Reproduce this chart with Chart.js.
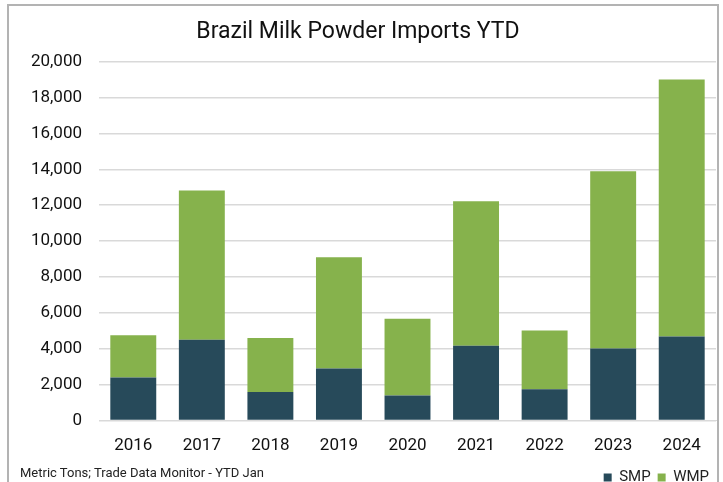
<!DOCTYPE html>
<html lang="en">
<head>
    <meta charset="UTF-8">
    <title>Brazil Milk Powder Imports YTD</title>
    <script src="https://cdn.jsdelivr.net/npm/chart.js"></script>
    <style>
        html, body {
            margin: 0;
            padding: 0;
            background: #fff;
            width: 723px;
            height: 482px;
            overflow: hidden;
        }
        .frame {
            position: absolute;
            left: 7px;
            top: 4px;
            width: 708px;
            height: 520px;
            border: 2px solid #b3b3b3;
        }
        .wrap {
            position: absolute;
            left: 0;
            top: 0;
            width: 723px;
            height: 482px;
        }
        .note {
            position: absolute;
            left: 20px;
            top: 465px;
            font-family: 'Roboto', sans-serif;
            font-size: 13px;
            color: #222;
        }
    </style>
</head>
<body>
    <div class="frame"></div>
    <div class="wrap"><canvas id="milkChart" width="723" height="482"></canvas></div>
    <div class="note">Metric Tons; Trade Data Monitor - YTD Jan</div>
    <script>
        // values (metric tons)
        const years = ['2016', '2017', '2018', '2019', '2020', '2021', '2022', '2023', '2024'];
        const smp = [2400, 4500, 1600, 2900, 1400, 4170, 1740, 4020, 4690];
        const wmp = [2360, 8320, 3000, 6200, 4270, 8050, 3280, 9870, 14310];
        const yTicks = [0, 2000, 4000, 6000, 8000, 10000, 12000, 14000, 16000, 18000, 20000];

        const ctx = document.getElementById('milkChart').getContext('2d');
        new Chart(ctx, {
            type: 'bar',
            data: {
                labels: years,
                datasets: [
                    { label: 'SMP', data: smp, backgroundColor: '#274a5a' },
                    { label: 'WMP', data: wmp, backgroundColor: '#86b24c' }
                ]
            },
            options: {
                responsive: false,
                animation: false,
                // legend sits low, next to the footnote
                layout: { padding: { top: 18, right: 7, left: 0, bottom: -13 } },
                datasets: { bar: { categoryPercentage: 1, barPercentage: 0.67 } },
                plugins: {
                    title: {
                        display: true,
                        text: 'Brazil Milk Powder Imports YTD',
                        color: '#111',
                        font: { family: 'Roboto', size: 23, weight: 'normal' },
                        padding: { top: 0, bottom: 16 }
                    },
                    legend: {
                        position: 'bottom',
                        align: 'end',
                        labels: {
                            color: '#222',
                            font: { family: 'Roboto', size: 15 },
                            boxWidth: 8,
                            boxHeight: 8,
                            padding: 7
                        }
                    },
                    tooltip: { enabled: false }
                },
                scales: {
                    x: {
                        stacked: true,
                        grid: { display: false },
                        border: { color: '#d9d9d9' },
                        ticks: { color: '#111', font: { family: 'Roboto', size: 17 }, padding: 7 }
                    },
                    y: {
                        stacked: true,
                        min: 0,
                        max: 20000,
                        afterFit: function(scale) { scale.width = 99; },
                        afterBuildTicks: function(scale) {
                            scale.ticks = yTicks.map(v => ({ value: v }));
                        },
                        grid: { color: '#d9d9d9', lineWidth: 1.5, drawTicks: false },
                        border: { display: false },
                        ticks: {
                            color: '#111',
                            font: { family: 'Roboto', size: 17 },
                            padding: 17,
                            callback: v => v.toLocaleString('en-US')
                        }
                    }
                }
            }
        });
    </script>
</body>
</html>
